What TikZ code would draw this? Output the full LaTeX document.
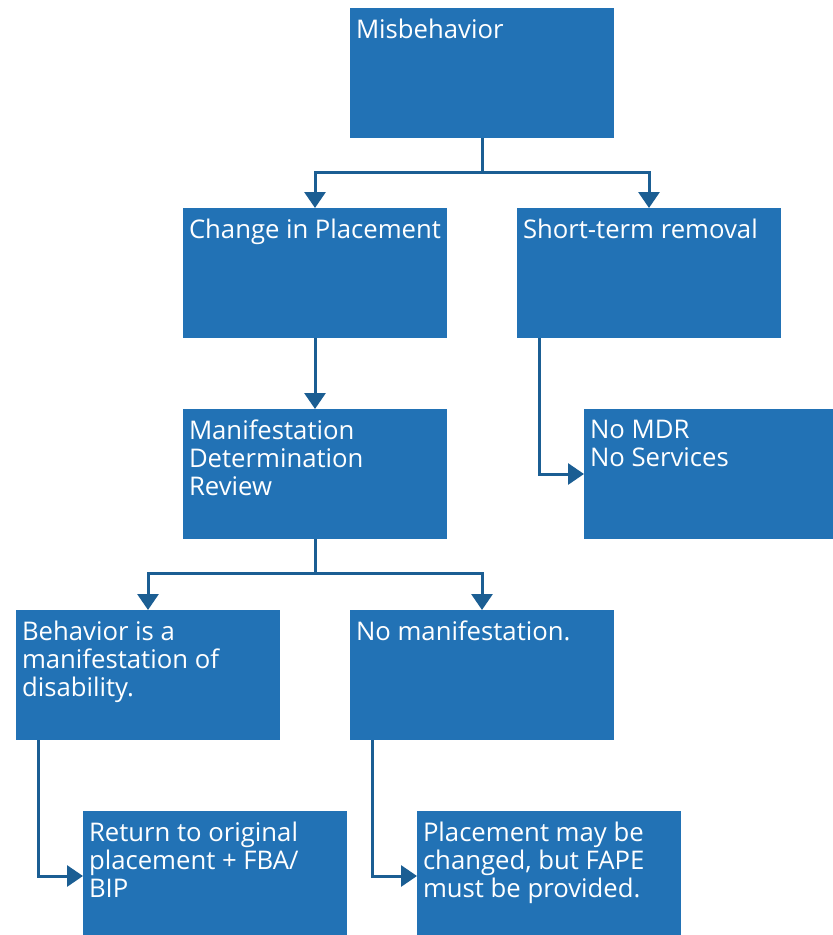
\documentclass[tikz,border=0pt]{standalone}
\usepackage{fontspec}
\setmainfont{Open Sans}
\usetikzlibrary{arrows.meta}
\definecolor{boxblue}{HTML}{2272B5}
\definecolor{lineblue}{HTML}{1B5E93}
\newcommand{\bx}[1]{\parbox[t][130pt][t]{252pt}{\vspace*{11pt}\raggedright\fontsize{25.7pt}{28pt}\selectfont #1}}
\tikzset{
  flowbox/.style={fill=boxblue, text=white, inner xsep=6pt, inner ysep=0pt, anchor=north west, outer sep=0pt},
  conn/.style={draw=lineblue, line width=3pt, -{Triangle[width=21pt,length=16pt]}},
}
\begin{document}
\begin{tikzpicture}[x=1pt,y=-1pt]
\useasboundingbox (0,0) rectangle (833,935);
\node[flowbox] (mis) at (350,8) {\bx{Misbehavior}};
\node[flowbox] (cip) at (183,208) {\bx{Change in Placement}};
\node[flowbox] (str) at (517,208) {\bx{Short-term removal}};
\node[flowbox] (mdr) at (183,409) {\bx{Manifestation\\Determination\\Review}};
\node[flowbox] (nmdr) at (584,409) {\bx{No MDR\\No Services}};
\node[flowbox] (beh) at (16,610) {\bx{Behavior is a\\manifestation of\\disability.}};
\node[flowbox] (nom) at (350,610) {\bx{No manifestation.}};
\node[flowbox] (ret) at (83,811) {\bx{Return to original\\placement + FBA/\\BIP}};
\node[flowbox] (pmc) at (417,811) {\bx{Placement may be\\changed, but FAPE\\must be provided.}};
\coordinate (j1) at ([yshift=-34pt]mis.south);
\draw[conn] (mis.south) -- (j1) -| (cip.north);
\draw[conn] (j1) -| (str.north);
\draw[conn] (cip.south) -- (mdr.north);
\draw[conn] ([xshift=22pt]str.south west) |- (nmdr.west);
\coordinate (j2) at ([yshift=-34pt]mdr.south);
\draw[conn] (mdr.south) -- (j2) -| (beh.north);
\draw[conn] (j2) -| (nom.north);
\draw[conn] ([xshift=22pt]beh.south west) |- (ret.west);
\draw[conn] ([xshift=22pt]nom.south west) |- (pmc.west);
\end{tikzpicture}
\end{document}
